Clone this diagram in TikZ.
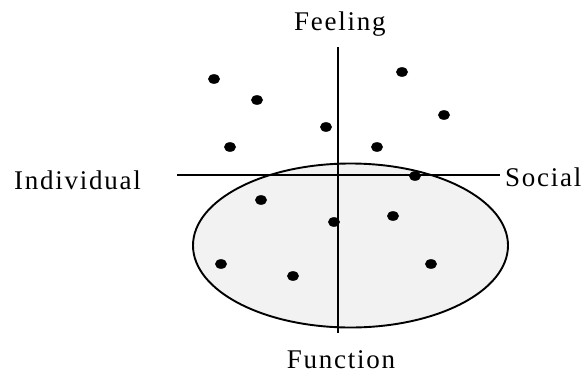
\documentclass[tikz,border=0pt]{standalone}
\usepackage{fontspec}
\setmainfont[LetterSpace=6.5]{Liberation Serif}
\begin{document}
\begin{tikzpicture}[x=1pt,y=-1pt,
  axis/.style={line width=1.9pt},
  lbl/.style={font=\fontsize{27}{30}\selectfont, inner sep=0pt, anchor=base},
  dot/.style={fill=black, draw=none}]
\useasboundingbox (0,0) rectangle (582,376);
% ellipse
\filldraw[fill=black!5, draw=black, line width=1.9pt] (350.5,245.5) ellipse [x radius=157.5, y radius=82];
% axes
\coordinate (vtop) at (338,47);
\coordinate (vbot) at (338,333);
\coordinate (hl) at (177,175);
\coordinate (hr) at (500,175);
\draw[axis] (vtop) -- (vbot);
\draw[axis] (hl) -- (hr);
% labels
\node[lbl] (feel) at (340,30) {Feeling};
\node[lbl] (func) at (341,368) {Function};
\node[lbl, anchor=base west] (ind) at (14,189) {Individual};
\node[lbl, anchor=base west] (soc) at (505,186) {Social};
% dots
\foreach \x/\y in {214/79, 257/100, 326/127, 230/147, 402/72, 444/115, 377/147,
                   415/176, 261/200, 334/222, 393/216, 221/264, 293/276, 431/264}
  \fill[dot] (\x,\y) ellipse [x radius=6, y radius=4.8];
\end{tikzpicture}
\end{document}
